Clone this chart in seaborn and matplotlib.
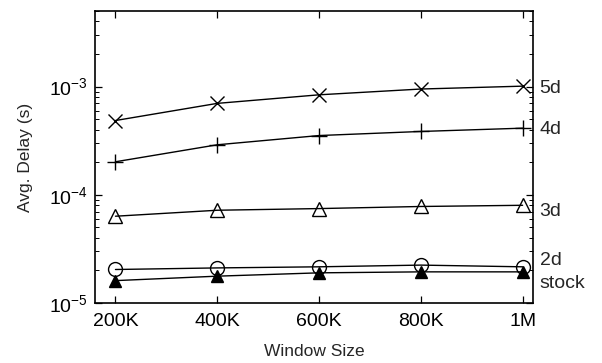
import matplotlib
matplotlib.use("Agg")
import matplotlib.pyplot as plt
import seaborn as sns
import pandas as pd
from matplotlib.ticker import LogLocator, FixedLocator, FixedFormatter, FuncFormatter
import numpy as np

window = [200e3, 400e3, 600e3, 800e3, 1000e3]
xtick_labels = ["200K", "400K", "600K", "800K", "1M"]
d5 = [4.86e-4, 7.0e-4, 8.4e-4, 9.5e-4, 1.01e-3]
d4 = [2.02e-4, 2.9e-4, 3.53e-4, 3.85e-4, 4.13e-4]
d3 = [6.34e-5, 7.2e-5, 7.46e-5, 7.8e-5, 8.0e-5]
d2 = [2.04e-5, 2.11e-5, 2.16e-5, 2.24e-5, 2.16e-5]
stock = [1.61e-5, 1.77e-5, 1.90e-5, 1.94e-5, 1.94e-5]
series_names = ["5d", "4d", "3d", "2d", "stock"]

sns.set_style("ticks")
plt.rcParams["font.family"] = ["Liberation Sans", "DejaVu Sans"]
plt.rcParams["mathtext.default"] = "regular"
plt.rcParams["axes.unicode_minus"] = False

fig = plt.figure(figsize=(6.02, 3.63), dpi=100)
ax = fig.add_axes([0.158, 0.1653, 0.727, 0.8044])

styles = {
    "5d": dict(marker="x", markersize=10, mfc="none"),
    "4d": dict(marker="+", markersize=12, mfc="none"),
    "3d": dict(marker="^", markersize=10, mfc="none"),
    "2d": dict(marker="o", markersize=10, mfc="none"),
    "stock": dict(marker="^", markersize=9, mfc="black"),
}
data = {"5d": d5, "4d": d4, "3d": d3, "2d": d2, "stock": stock}
for name in series_names:
    df = pd.DataFrame({"x": window, "y": data[name]})
    sns.lineplot(data=df, x="x", y="y", ax=ax, color="black", linewidth=1.0,
                 mec="black", mew=1.0, **styles[name])

ax.set_yscale("log")
ax.set_xlim(160e3, 1020e3)
ax.set_ylim(1e-5, 5e-3)
ax.xaxis.set_major_locator(FixedLocator(window))
ax.xaxis.set_major_formatter(FixedFormatter(xtick_labels))
ax.yaxis.set_major_locator(LogLocator(base=10, numticks=10))
ax.yaxis.set_major_formatter(FuncFormatter(lambda v, p: "$10^{%d}$" % int(round(np.log10(v)))))
ax.yaxis.set_minor_locator(LogLocator(base=10, subs=range(2, 10), numticks=20))
ax.tick_params(which="both", direction="in", top=True, right=True, labelsize=14, colors="black")
ax.tick_params(which="major", length=5, width=0.9, pad=5)
ax.tick_params(axis="x", which="major", pad=7)
ax.tick_params(which="minor", length=3, width=0.7)
ax.tick_params(axis="x", which="minor", top=False, bottom=False)
for s in ax.spines.values():
    s.set_linewidth(1.2)
    s.set_color("black")
ax.set_xlabel("Window Size", fontsize=12.5, labelpad=10)
ax.set_ylabel("Avg. Delay (s)", fontsize=12.5, labelpad=12)

label_y = {"5d": 9.7e-4, "4d": 3.99e-4, "3d": 6.94e-5, "2d": 2.45e-5, "stock": 1.50e-5}
for name in series_names:
    ax.annotate(name, xy=(1.0, label_y[name]), xycoords=("axes fraction", "data"),
                xytext=(5, 0), textcoords="offset points", va="center", ha="left",
                fontsize=14, annotation_clip=False)

fig.savefig("out.png", dpi=100)
